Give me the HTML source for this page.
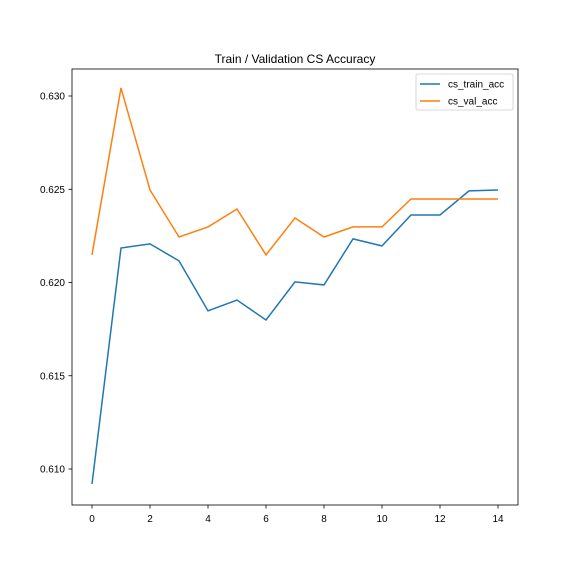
<!DOCTYPE html>
<html><head><meta charset="utf-8"><style>
body{margin:0;background:#fff;font-family:"Liberation Sans","DejaVu Sans",sans-serif;}
</style></head><body>
<svg id="chart" width="576" height="576" xmlns="http://www.w3.org/2000/svg"></svg>
<script>
const epochs=[0,1,2,3,4,5,6,7,8,9,10,11,12,13,14];
const trainAcc=[0.6092,0.62185,0.62207,0.62116,0.61848,0.61906,0.61799,0.62003,0.61987,0.62234,0.62196,0.62362,0.62362,0.62491,0.62496];
const valAcc=[0.62148,0.63043,0.62496,0.62244,0.62298,0.62394,0.62148,0.62346,0.62244,0.62298,0.62298,0.62448,0.62448,0.62448,0.62448];
const xTicks=[0,2,4,6,8,10,12,14];
const yTicks=[0.610,0.615,0.620,0.625,0.630];
const yTickLabels=["0.610","0.615","0.620","0.625","0.630"];

const L=72,R=518,T=69,B=505;
const sx=v=>92+(v-0)*(498-92)/14;
const sy=v=>469-(v-0.610)*(469-96)/0.020;
const svg=document.getElementById('chart');
const NS='http://www.w3.org/2000/svg';
function mk(tag,attrs,parent){const e=document.createElementNS(NS,tag);for(const k in attrs)e.setAttribute(k,attrs[k]);(parent||svg).appendChild(e);return e;}

const title=mk('text',{x:295,y:63,'text-anchor':'middle','font-size':12});
title.textContent='Train / Validation CS Accuracy';



const frame=mk('rect',{x:L,y:T,width:R-L,height:B-T,fill:'none',stroke:'#000','stroke-width':0.8});



xTicks.forEach(t=>{
  const x=sx(t);
  const tk=mk('line',{x1:x,x2:x,y1:B,y2:B+3.5,stroke:'#000','stroke-width':0.8});
  
  
  const lb=mk('text',{x:x,y:B+17,'text-anchor':'middle','font-size':10});
  lb.textContent=String(t);
  
  
});
yTicks.forEach((t,i)=>{
  const y=sy(t);
  const tk=mk('line',{x1:L-3.5,x2:L,y1:y,y2:y,stroke:'#000','stroke-width':0.8});
  
  
  const lb=mk('text',{x:L-7,y:y+3.5,'text-anchor':'end','font-size':10});
  lb.textContent=yTickLabels[i];
  
  
});

function line(vals,color,name){
  const p=mk('polyline',{points:vals.map((v,i)=>sx(epochs[i])+','+sy(v)).join(' '),fill:'none',stroke:color,'stroke-width':1.5});
  
  
}
line(trainAcc,'#1f77b4','cs-train-acc-line');
line(valAcc,'#ff7f0e','cs-val-acc-line');

const lg=mk('g',{});


mk('rect',{x:416,y:74,width:97,height:36,rx:2,fill:'#fff',stroke:'#ccc','stroke-width':0.8},lg);
[['cs_train_acc','#1f77b4'],['cs_val_acc','#ff7f0e']].forEach((e,i)=>{
  const y=84+i*17;
  const g=mk('g',{},lg);
  
  
  mk('line',{x1:420,x2:440,y1:y,y2:y,stroke:e[1],'stroke-width':1.5},g);
  const t=mk('text',{x:448,y:y+3.5,'font-size':10},g);
  t.textContent=e[0];
});
</script>
</body></html>
